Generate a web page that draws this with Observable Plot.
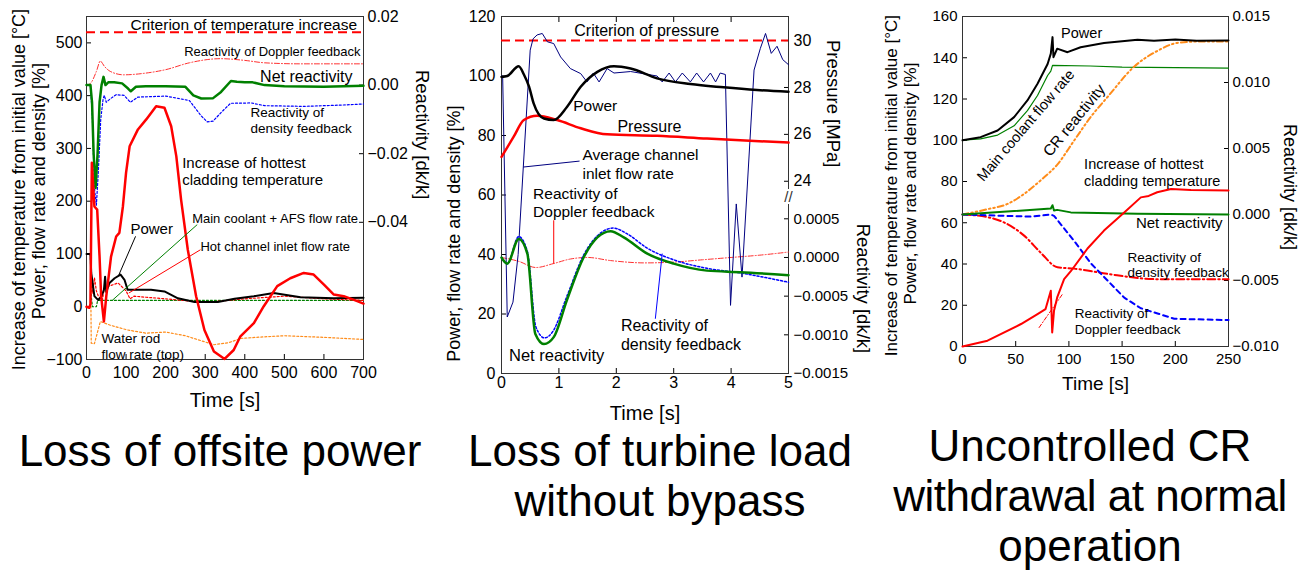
<!DOCTYPE html>
<html><head><meta charset="utf-8">
<script src="https://cdn.jsdelivr.net/npm/d3@7"></script>
<script src="https://cdn.jsdelivr.net/npm/@observablehq/plot@0.6"></script>
<style>
body{margin:0;background:#fff;width:1301px;height:572px;overflow:hidden;position:relative;font-family:"Liberation Sans",Arial,sans-serif;}
.panel{position:absolute;top:0;}
.cap{position:absolute;font-size:44px;line-height:50px;text-align:center;color:#000;white-space:nowrap;}
</style></head><body>
<div id="p1" class="panel" style="left:0px"></div>
<div id="p2" class="panel" style="left:440px"></div>
<div id="p3" class="panel" style="left:870px"></div>
<div class="cap" style="left:0px;width:440px;top:426px">Loss of offsite power</div>
<div class="cap" style="left:440px;width:440px;top:426px">Loss of turbine load<br>without bypass</div>
<div class="cap" style="left:880px;width:420px;top:421px">Uncontrolled CR<br><span style="letter-spacing:-0.5px">withdrawal at normal</span><br>operation</div>
<script>
// ================= Panel 1: Loss of offsite power =================
const P1_X_TICKS = [0,100,200,300,400,500,600,700];
const P1_Y_TICKS = [-100,0,100,200,300,400,500];
const P1_R_TICKS = [0.02,0,-0.02,-0.04];
const P1_R_TICK_LABELS = ["0.02","0.00","−0.02","−0.04"];
const P1_CRITERION = 520;
const P1_T_CLAD = [0,7,10,13.5,20,27,33,37,44,50,62,75,83,92,100,109,130,151,176,197,214,227,239,256,277,298,322,349,372,389,423,448,482,515,549,574,600,625,650,676,700];
const P1_CLAD   = [0,-2,5,273,190,184,95,20,-28,20,95,133,140,190,254,304,336,355,380,377,342,285,203,108,20,-44,-85,-99,-82,-56,-31,1,39,54,64,61,42,23,20,13,6];
const P1_T_POWER = [0,10,12,20,29,37,44,47,50,58,71,86,96,104,121,163,197,231,273,332,374,423,473,541,625,700];
const P1_POWER   = [100,100,64,20,13,18,32,57,28,45,54,61,51,32,32,32,29,16,9,9,15,20,26,18,16,17];
const P1_T_MAIN = [0,10,12,15,25,28,700];
const P1_MAIN   = [100,100,20,0,0,12,12];
const P1_T_HOT = [0,10,13,16,20,25,30,40,45,60,80,100,110,120,150,200,300,400,500,600,700];
const P1_HOT   = [100,100,50,25,55,30,20,12,35,40,45,30,15,20,18,15,8,15,20,15,12];
const P1_T_WROD = [0,10,12,20,35,60,103,150,200,250,322,360,390,450,500,600,700];
const P1_WROD   = [100,100,-69,-70,-28,-35,-44,-50,-48,-55,-72,-68,-60,-57,-55,-58,-62];
const P1_T_NET = [0,10,14,18,23,28,33,38,43,48,55,70,90,105,112,125,150,200,250,270,290,320,340,365,380,400,420,450,500,600,700];
const P1_NET   = [0,0,-0.005,-0.02,-0.030,-0.02,-0.005,0,0.0024,0,0.0008,0.0008,0.0005,-0.001,-0.0018,-0.0005,-0.0003,-0.0003,-0.0005,-0.003,-0.0039,-0.0038,-0.002,0.0012,0.001,0.0008,0.0008,0,-0.0003,-0.0005,-0.0002];
const P1_T_DOP = [0,10,25,35,45,60,94,150,200,260,339,400,450,541,700];
const P1_DOP   = [0,0.0005,0.004,0.007,0.0055,0.004,0.003,0.0035,0.0045,0.0065,0.0077,0.0072,0.0065,0.0062,0.0062];
const P1_T_DENS = [0,10,15,20,25,30,36,42,45,50,60,75,95,111,130,200,260,290,305,320,340,364,416,450,550,650,700];
const P1_DENS   = [0,0,-0.01,-0.03,-0.035,-0.025,-0.01,-0.004,-0.003,-0.005,-0.004,-0.0028,-0.003,-0.005,-0.0035,-0.0032,-0.0045,-0.009,-0.0107,-0.0105,-0.008,-0.0053,-0.0052,-0.006,-0.0062,-0.0058,-0.0055];

// ================= Panel 2: Loss of turbine load without bypass =================
const P2_X_TICKS = [0,1,2,3,4,5];
const P2_Y_TICKS = [0,20,40,60,80,100,120];
const P2_P_TICKS = [30,28,26,24];
const P2_R_TICKS = [0.0005,0,-0.0005,-0.001,-0.0015];
const P2_R_TICK_LABELS = ["0.0005","0.0000","−0.0005","−0.0010","−0.0015"];
const P2_CRITERION_MPA = 30;
const P2_T_POWER = [0,0.1,0.3,0.39,0.48,0.56,0.74,0.91,1.14,1.38,1.67,1.96,2.25,2.71,3.29,3.87,4.45,5];
const P2_POWER   = [99.7,100,103.3,100.5,96.4,90.8,85.7,85.2,89.6,96.4,101.4,103.3,102.5,99.2,97.3,96.2,95.3,94.7];
const P2_T_PRES = [0,0.21,0.39,0.62,0.97,1.38,1.84,2.71,3.58,5];
const P2_PRES   = [25.04,25.89,26.61,26.79,26.61,26.26,26.0,25.94,25.82,25.65];
const P2_T_FLOW = [0,0.02,0.1,0.2,0.29,0.5,0.55,0.62,0.71,0.8,0.91,1.03,1.2,1.38,1.49,1.6,1.7,1.84,1.96,2.25,2.71,2.8,2.92,3.03,3.15,3.29,3.4,3.52,3.64,3.73,3.81,3.9,3.99,4.09,4.19,4.4,4.51,4.6,4.7,4.8,4.9,5];
const P2_FLOW   = [100,100,19,24,40,108.7,112.5,113.8,114.3,111.5,110.9,106.4,102.5,100.8,98,101,98,102.5,101,101.5,100,98,101,98,101,98,101,98,101,98,101,100.5,22.9,57,32.4,102,109.3,114.3,107.6,110,105.5,103.8];
const P2_T_NET = [0,0.1,0.3,0.45,0.59,0.74,0.91,1.14,1.43,1.67,1.9,2.13,2.54,3.0,3.58,4.16,5];
const P2_NET   = [0,-0.00008,0.00024,0.00005,-0.00099,-0.00112,-0.00103,-0.00055,0,0.00026,0.00034,0.00026,0.00005,-0.00008,-0.00017,-0.00019,-0.00023];
const P2_T_DENS = [0,0.1,0.3,0.45,0.6,0.75,0.9,1.14,1.43,1.67,1.95,2.2,2.54,3.0,3.58,4.16,4.6,5];
const P2_DENS   = [0,-0.00008,0.00027,0.00008,-0.0009,-0.00104,-0.00095,-0.0005,0.00003,0.00028,0.00038,0.0003,0.00012,-0.00003,-0.00014,-0.0002,-0.00026,-0.00032];
const P2_T_DOP = [0,0.3,0.6,0.9,1.2,1.5,1.9,2.5,3.0,3.5,4.0,4.5,5];
const P2_DOP   = [0,-0.00005,-0.00013,-0.00008,-0.00002,0,-0.00004,-0.00007,-0.00006,-0.00003,0,0.00003,0.00007];

// ================= Panel 3: Uncontrolled CR withdrawal =================
const P3_X_TICKS = [0,50,100,150,200,250];
const P3_Y_TICKS = [0,20,40,60,80,100,120,140,160];
const P3_R_TICKS = [0.015,0.01,0.005,0,-0.005,-0.01];
const P3_R_TICK_LABELS = ["0.015","0.010","0.005","0.000","−0.005","−0.010"];
const P3_T_POWER = [0,17,33,48.5,61,70.5,80,83,84.6,85.5,89,98.7,111,133,164.5,180,200,220,250];
const P3_POWER   = [100,101.5,104.7,111.2,119.3,127.4,137,142,150,140.3,144.4,142.7,145.1,147.1,148.7,148.2,148.8,148.3,148.4];
const P3_T_MAIN = [0,17,33,48.5,61,70.5,80,83,84.6,120,150,250];
const P3_MAIN   = [100,100.7,102.5,107,114.4,121.7,131.4,133.5,136.3,136,135.5,135];
const P3_T_CR = [0,23.5,42.3,57.9,73.6,89.3,104.9,120.6,136.3,161.3,183.3,202,221,250];
const P3_CR   = [0,0.0004,0.0008,0.00156,0.0026,0.0038,0.0056,0.0074,0.0089,0.0112,0.0124,0.013,0.0131,0.0131];
const P3_T_NET = [0,83,84.6,86,89,101.8,164.5,250];
const P3_NET   = [0,0.00045,0.0007,0.0003,0.00035,0.00016,0.00005,0];
const P3_T_RED = [0,23.5,39,57.9,73.6,89.3,104.9,136.3,183.3,250];
const P3_RED   = [0,-0.0002,-0.0006,-0.0016,-0.0029,-0.004,-0.0041,-0.0045,-0.0049,-0.0049];
const P3_T_BLUE = [0,39,64,83,86,104.9,120.6,136.3,152,167.6,183.3,199,250];
const P3_BLUE   = [0,-0.0001,-0.00016,0,-0.0001,-0.002,-0.0037,-0.005,-0.0063,-0.0071,-0.0075,-0.0079,-0.008];
const P3_T_CLAD = [0,23.5,55,70.5,78,83,84.3,86,89,95.5,101.8,117.5,133,152,167.6,175,183,196,214.6,250];
const P3_CLAD   = [0,2.8,10.9,15.7,18.1,27,6.8,17.3,23.8,32.7,36.5,47.5,56.2,65,72.3,73,74.8,76.4,75.9,75.6];
const P3_T_GUIDE = [72,94];
const P3_GUIDE   = [9.2,25.4];

// ================= helpers =================
const FONT = '"Liberation Sans", Arial, Helvetica, sans-serif';
const ident = v => v;
const intFmt = d => String(d).replace("-", "−");
const ser = (T, V, f = ident) => T.map((t, i) => ({t, v: f(V[i])}));
const ln = (T, V, f, o) => Plot.line(ser(T, V, f), {x: "t", y: "v", ...o});
const txt = (x, y, s, o = {}) => Plot.text([{x, y, s}], {x: "x", y: "y", text: "s", fill: "#000", ...o});
const lead = (x1, y1, x2, y2, stroke) => Plot.link([{x1, y1, x2, y2}], {x1: "x1", y1: "y1", x2: "x2", y2: "y2", stroke, strokeWidth: 1});
const sideLabel = (anchor, y, s, dx, size) => Plot.text([{y, s}], {y: "y", text: "s", frameAnchor: anchor, textAnchor: "middle", lineAnchor: "middle", dx, rotate: anchor === "left" ? -90 : 90, fontSize: size, fill: "#000"});
const bottomLabel = (s, dy, size) => Plot.text([s], {text: d => d, frameAnchor: "bottom", textAnchor: "middle", lineAnchor: "middle", dy, fontSize: size, fill: "#000"});
const labelOf = (ticks, labels) => d => { const i = ticks.findIndex(t => Math.abs(t - d) < 1e-6); return i < 0 ? "" : labels[i]; };
const RED = "#ff0000", GREEN = "#008000", BLUE = "#0000ff", NAVY = "#000080", ORANGE = "#ff8c1a";

// ---------- Panel 1 ----------
const to1 = r => 420 + r * 6500;
const p1R = P1_R_TICKS.map(to1);
const plot1 = Plot.plot({
  width: 440, height: 420, marginLeft: 86, marginRight: 77, marginTop: 16, marginBottom: 61,
  x: {domain: [0, 700]}, y: {domain: [-100, 550]},
  style: {fontFamily: FONT, fontSize: "16px", color: "#000", background: "transparent", overflow: "visible"},
  marks: [
    Plot.axisX({ticks: P1_X_TICKS, tickFormat: intFmt, tickSize: -5, tickPadding: 12, label: null, fontSize: 16}),
    Plot.axisY({ticks: P1_Y_TICKS, tickFormat: intFmt, tickSize: -5, tickPadding: 9, label: null, fontSize: 16}),
    Plot.axisY({anchor: "right", ticks: p1R, tickFormat: labelOf(p1R, P1_R_TICK_LABELS), tickSize: -5, tickPadding: 9, label: null, fontSize: 16}),
    Plot.frame({stroke: "#333"}),
    Plot.ruleY([P1_CRITERION], {stroke: RED, strokeWidth: 2, strokeDasharray: "9,5"}),
    ln(P1_T_WROD, P1_WROD, ident, {stroke: ORANGE, strokeWidth: 1.2, strokeDasharray: "2,2"}),
    ln(P1_T_MAIN, P1_MAIN, ident, {stroke: GREEN, strokeWidth: 1.2, strokeDasharray: "2,2"}),
    ln(P1_T_HOT, P1_HOT, ident, {stroke: RED, strokeWidth: 1.2, strokeDasharray: "2,2"}),
    ln(P1_T_DOP, P1_DOP, to1, {stroke: "#ff3030", strokeWidth: 1, strokeDasharray: "5,2,1,2", curve: "monotone-x"}),
    ln(P1_T_DENS, P1_DENS, to1, {stroke: BLUE, strokeWidth: 1.2, strokeDasharray: "2,2"}),
    ln(P1_T_POWER, P1_POWER, ident, {stroke: "#000", strokeWidth: 2}),
    ln(P1_T_NET, P1_NET, to1, {stroke: GREEN, strokeWidth: 2.5}),
    ln(P1_T_CLAD, P1_CLAD, ident, {stroke: RED, strokeWidth: 2.5}),
    lead(124, 133.4, 81.6, 60, "#000"),
    lead(279.8, 155.6, 65, 12, GREEN),
    lead(288, 108, 107, 26, RED),
    txt(397.5, 533, "Criterion of temperature increase", {fontSize: 15.5}),
    txt(692.5, 483, "Reactivity of Doppler feedback", {fontSize: 13, textAnchor: "end"}),
    txt(555.5, 436, "Net reactivity", {fontSize: 16}),
    txt(414.5, 354, "Reactivity of\ndensity feedback", {fontSize: 13.5, textAnchor: "start", lineHeight: 1.16}),
    txt(241.8, 257.5, "Increase of hottest\ncladding temperature", {fontSize: 15, textAnchor: "start", lineHeight: 1.15}),
    txt(111, 147.4, "Power", {fontSize: 15, textAnchor: "start"}),
    txt(267, 166.4, "Main coolant + AFS flow rate", {fontSize: 13, textAnchor: "start"}),
    txt(288, 114.4, "Hot channel inlet flow rate", {fontSize: 13, textAnchor: "start"}),
    txt(38, -73.7, "Water rod\nflow rate (top)", {fontSize: 13.5, textAnchor: "start", lineHeight: 1.2}),
    sideLabel("left", 222, "Increase of temperature from initial value [°C]", -67.5, 18),
    sideLabel("left", 219, "Power, flow rate and density [%]", -47.5, 18),
    sideLabel("right", 326, "Reactivity [dk/k]", 58, 18.5),
    bottomLabel("Time [s]", 41, 20)
  ]
});
document.getElementById("p1").append(plot1);

// ---------- Panel 2 ----------
const toP = p => 111.9 + (p - 30) * 7.88;
const toR2 = r => 39 + r * 26000;
const p2P = P2_P_TICKS.map(toP);
const p2R = P2_R_TICKS.map(toR2);
const plot2 = Plot.plot({
  width: 430, height: 430, marginLeft: 61, marginRight: 82, marginTop: 16, marginBottom: 57,
  x: {domain: [0, 5]}, y: {domain: [0, 120]},
  style: {fontFamily: FONT, fontSize: "15px", color: "#000", background: "transparent", overflow: "visible"},
  marks: [
    Plot.axisX({ticks: P2_X_TICKS, tickFormat: intFmt, tickSize: -5, tickPadding: 8, label: null, fontSize: 16}),
    Plot.axisX({anchor: "top", ticks: P2_X_TICKS, tickSize: -5, tickFormat: () => "", label: null}),
    Plot.axisY({ticks: P2_Y_TICKS, tickFormat: intFmt, tickSize: -5, tickPadding: 11, label: null, fontSize: 16}),
    Plot.axisY({anchor: "right", ticks: p2P, tickFormat: labelOf(p2P, P2_P_TICKS.map(String)), tickSize: -5, tickPadding: 10, label: null, fontSize: 16}),
    Plot.axisY({anchor: "right", ticks: p2R, tickFormat: labelOf(p2R, P2_R_TICK_LABELS), tickSize: -5, tickPadding: 10, label: null, fontSize: 15}),
    Plot.frame({stroke: "#333"}),
    Plot.text([59.2], {y: d => d, frameAnchor: "right", textAnchor: "middle", text: () => "//", fontSize: 15, fill: "#333", stroke: "white", strokeWidth: 4}),
    Plot.ruleY([toP(P2_CRITERION_MPA)], {stroke: RED, strokeWidth: 2, strokeDasharray: "9,5"}),
    ln(P2_T_DOP, P2_DOP, toR2, {stroke: "#ff3030", strokeWidth: 1, strokeDasharray: "5,2,1,2", curve: "monotone-x"}),
    ln(P2_T_FLOW, P2_FLOW, ident, {stroke: NAVY, strokeWidth: 1}),
    ln(P2_T_DENS, P2_DENS, toR2, {stroke: BLUE, strokeWidth: 1.5, strokeDasharray: "2,2", curve: "monotone-x"}),
    ln(P2_T_NET, P2_NET, toR2, {stroke: GREEN, strokeWidth: 2.5, curve: "monotone-x"}),
    ln(P2_T_PRES, P2_PRES, toP, {stroke: RED, strokeWidth: 2.5, curve: "monotone-x"}),
    ln(P2_T_POWER, P2_POWER, ident, {stroke: "#000", strokeWidth: 2.5, curve: "monotone-x"}),
    lead(1.36, 71.4, 0.38, 69.4, NAVY),
    lead(0.91, 51.5, 0.91, 36.9, RED),
    lead(2.68, 18.4, 2.8, 40.3, BLUE),
    txt(2.53, 115.1, "Criterion of pressure", {fontSize: 16}),
    txt(1.25, 89.9, "Power", {fontSize: 15.5, textAnchor: "start"}),
    txt(2.02, 82.9, "Pressure", {fontSize: 16, textAnchor: "start"}),
    txt(1.41, 70.6, "Average channel\ninlet flow rate", {fontSize: 15.5, textAnchor: "start", lineHeight: 1.2}),
    txt(0.55, 57.7, "Reactivity of\nDoppler feedback", {fontSize: 15.5, textAnchor: "start", lineHeight: 1.16}),
    txt(0.13, 6.1, "Net reactivity", {fontSize: 16.5, textAnchor: "start"}),
    txt(2.08, 13.1, "Reactivity of\ndensity feedback", {fontSize: 16, textAnchor: "start", lineHeight: 1.15}),
    sideLabel("left", 47, "Power, flow rate and density [%]", -47, 18),
    sideLabel("right", 90.7, "Pressure [MPa]", 44.5, 18.5),
    sideLabel("right", 28.6, "Reactivity [dk/k]", 74.5, 18.5),
    bottomLabel("Time [s]", 40, 20)
  ]
});
document.getElementById("p2").append(plot2);

// ---------- Panel 3 ----------
const toR3 = r => 64 + r * 6400;
const p3R = P3_R_TICKS.map(toR3);
const plot3 = Plot.plot({
  width: 431, height: 420, marginLeft: 92, marginRight: 73, marginTop: 16, marginBottom: 74,
  x: {domain: [0, 250]}, y: {domain: [0, 160]},
  style: {fontFamily: FONT, fontSize: "15px", color: "#000", background: "transparent", overflow: "visible"},
  marks: [
    Plot.axisX({ticks: P3_X_TICKS, tickFormat: intFmt, tickSize: -5, tickPadding: 12, label: null, fontSize: 15}),
    Plot.axisY({ticks: P3_Y_TICKS, tickFormat: intFmt, tickSize: -5, tickPadding: 10, label: null, fontSize: 15}),
    Plot.axisY({anchor: "right", ticks: p3R, tickFormat: labelOf(p3R, P3_R_TICK_LABELS), tickSize: -5, tickPadding: 9, label: null, fontSize: 15}),
    Plot.frame({stroke: "#333"}),
    ln(P3_T_MAIN, P3_MAIN, ident, {stroke: GREEN, strokeWidth: 1.2}),
    ln(P3_T_CR, P3_CR, toR3, {stroke: ORANGE, strokeWidth: 2, strokeDasharray: "6,3,1.5,3,1.5,3", curve: "monotone-x"}),
    ln(P3_T_RED, P3_RED, toR3, {stroke: RED, strokeWidth: 2, strokeDasharray: "8,3,1.5,3", curve: "monotone-x"}),
    ln(P3_T_BLUE, P3_BLUE, toR3, {stroke: BLUE, strokeWidth: 2, strokeDasharray: "5,4"}),
    ln(P3_T_NET, P3_NET, toR3, {stroke: GREEN, strokeWidth: 2}),
    ln(P3_T_GUIDE, P3_GUIDE, ident, {stroke: RED, strokeWidth: 1, strokeDasharray: "4,2,1,2"}),
    ln(P3_T_CLAD, P3_CLAD, ident, {stroke: RED, strokeWidth: 2}),
    ln(P3_T_POWER, P3_POWER, ident, {stroke: "#000", strokeWidth: 2}),
    txt(112, 151.6, "Power", {fontSize: 14.5}),
    txt(59.5, 107.1, "Main coolant flow rate", {fontSize: 14.5, rotate: -49.5}),
    txt(105, 109.6, "CR reactivity", {fontSize: 15.5, rotate: -50.7}),
    txt(114.3, 84.5, "Increase of hottest\ncladding temperature", {fontSize: 14.5, textAnchor: "start", lineHeight: 1.15}),
    txt(163, 59.7, "Net reactivity", {fontSize: 15, textAnchor: "start"}),
    txt(155, 39.8, "Reactivity of\ndensity feedback", {fontSize: 13.5, textAnchor: "start", lineHeight: 1.16}),
    txt(105.5, 12.3, "Reactivity of\nDoppler feedback", {fontSize: 13.5, textAnchor: "start", lineHeight: 1.19}),
    sideLabel("left", 78, "Increase of temperature from initial value [°C]", -71, 17),
    sideLabel("left", 79, "Power, flow rate and density [%]", -52, 17),
    sideLabel("right", 77.3, "Reactivity [dk/k]", 61, 18),
    bottomLabel("Time [s]", 37, 19)
  ]
});
document.getElementById("p3").append(plot3);
</script>
</body></html>
